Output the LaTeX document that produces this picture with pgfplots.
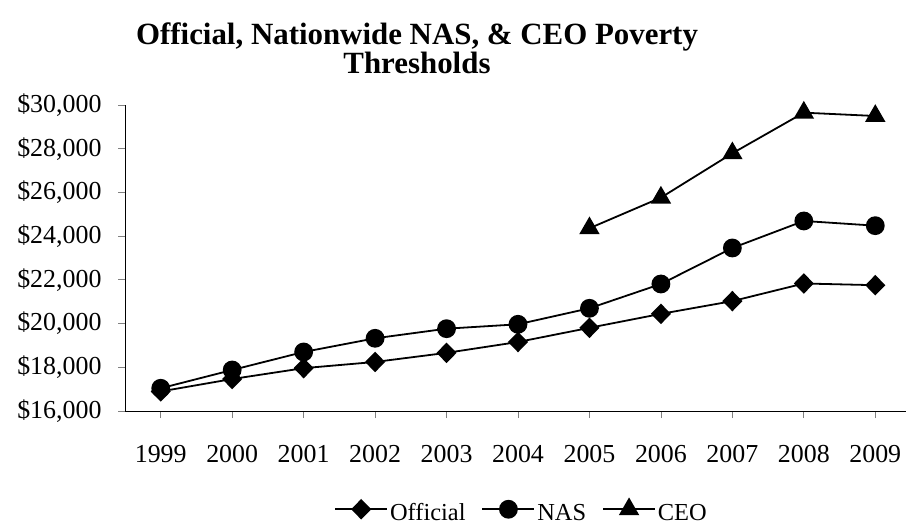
\documentclass[border=0pt]{standalone}
\usepackage{pgfplots}
\pgfplotsset{compat=1.18}
\usepackage{fontspec}
\setmainfont{Liberation Serif}
\begin{document}
\begin{tikzpicture}
\useasboundingbox (0,0) rectangle (906bp,527bp);
\node[font=\bfseries\fontsize{31}{29}\selectfont, align=center] at (417bp,479bp) {Official, Nationwide NAS, \& CEO Poverty\\Thresholds};
\begin{axis}[
  at={(125bp,116bp)}, anchor=south west,
  scale only axis, width=786bp, height=306bp,
  xmin=-0.5, xmax=10.5, ymin=16000, ymax=30000,
  axis lines*=left,
  axis line style={black, line width=1bp},
  xtick={0,...,10},
  xticklabels={1999,2000,2001,2002,2003,2004,2005,2006,2007,2008,2009},
  ytick={16000,18000,20000,22000,24000,26000,28000,30000},
  yticklabels={{\$16,000},{\$18,000},{\$20,000},{\$22,000},{\$24,000},{\$26,000},{\$28,000},{\$30,000}},
  scaled y ticks=false,
  tick align=outside, major tick length=7bp,
  tick style={gray, line width=0.8bp},
  ticklabel style={font=\fontsize{26}{30}\selectfont},
  xticklabel style={yshift=-24bp},
  yticklabel style={xshift=-13bp},
  clip=false,
  legend style={at={(0.5045,-0.327)}, anchor=center, draw=none, fill=none,
    font=\fontsize{24.5}{28}\selectfont, legend columns=-1,
    nodes={text height=0.68em, text depth=0.05em},
    /tikz/every even column/.append style={column sep=14bp}},
  legend image code/.code={
    \draw[#1, mark repeat=2, mark phase=2, yshift=8bp] plot coordinates {(0bp,0bp) (26bp,0bp) (52bp,0bp)};
  },
]
\addplot[black, line width=1.8bp, mark=diamond*, mark size=9bp, mark options={solid, fill=black, xscale=1.3}] coordinates {
(0,16895) (1,17463) (2,17960) (3,18244) (4,18660) (5,19157) (6,19806) (7,20444) (8,21027) (9,21834) (10,21756)};
\addlegendentry{Official}
\addplot[black, line width=1.8bp, mark=*, mark size=8.5bp, mark options={solid, fill=black}] coordinates {
(0,17040) (1,17876) (2,18700) (3,19326) (4,19766) (5,19967) (6,20699) (7,21811) (8,23458) (9,24694) (10,24479)};
\addlegendentry{NAS}
\addplot[black, line width=1.8bp, mark=triangle*, mark size=10bp, mark options={solid, fill=black}] coordinates {
(6,24360) (7,25762) (8,27790) (9,29649) (10,29497)};
\addlegendentry{CEO}
\end{axis}
\end{tikzpicture}
\end{document}
